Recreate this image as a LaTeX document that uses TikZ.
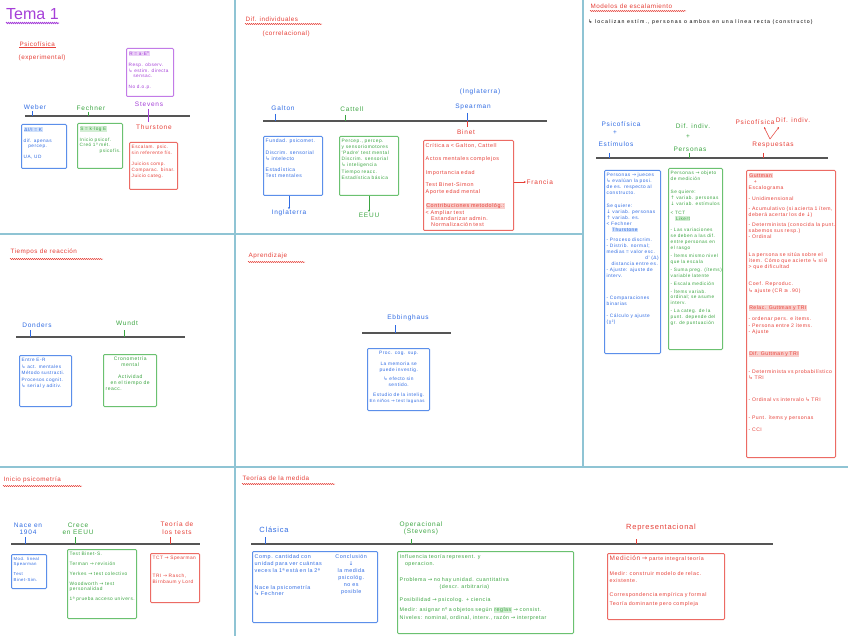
\documentclass[tikz,border=0pt]{standalone}
\usepackage{fontspec}
\setmainfont{Liberation Sans}
\newfontfamily\symf{DejaVu Sans}
\usetikzlibrary{decorations.pathmorphing,arrows.meta}
\definecolor{pnl}{HTML}{8FC4D4}
\definecolor{tlg}{HTML}{555555}
\definecolor{tb}{HTML}{2F6BE3}
\definecolor{bb}{HTML}{5B8FEA}
\definecolor{tg}{HTML}{3BA541}
\definecolor{bg}{HTML}{6BC170}
\definecolor{tr}{HTML}{E63E36}
\definecolor{br}{HTML}{EC6B64}
\definecolor{tp}{HTML}{A53FD8}
\definecolor{bp}{HTML}{C27BE7}
\definecolor{lb}{HTML}{D2E2FB}
\definecolor{lg}{HTML}{D3EED4}
\definecolor{lr}{HTML}{F9CFCC}
\definecolor{lp}{HTML}{EBD2F7}
\newcommand\myra{{\symf →}}
\newcommand\myda{{\symf ↓}}
\newcommand\myua{{\symf ↑}}
\newcommand\myhk{{\symf ↳}}
\newcommand\myhl[2]{{\setlength{\fboxsep}{0.6pt}\colorbox{#1}{#2}}}
\newcommand\hwsp{\addfontfeatures{LetterSpace=10}}
\newcommand\fs[2]{\fontsize{#1}{#2}\selectfont\hwsp}
\tikzset{
 pline/.style={draw=pnl, line width=1.3pt},
 tline/.style={draw=tlg, line width=1.4pt},
 tick/.style={line width=0.7pt},
 lab/.style={font=\fontsize{6.5}{7.3}\selectfont\addfontfeatures{LetterSpace=12}, inner sep=0.5pt, align=center},
 sect/.style={font=\fontsize{6.3}{7.3}\selectfont\addfontfeatures{LetterSpace=8}, text=tr, inner sep=0.5pt, anchor=west},
 wav/.style={decorate, decoration={snake, amplitude=0.6pt, segment length=2pt}, line width=0.45pt},
 cbox/.style={anchor=north west, line width=1pt, rounded corners=1pt, inner sep=0pt},
 btxt/.style={anchor=north west, inner sep=0pt, font=\fs{5}{6}, align=left},
 arr/.style={-{Stealth[length=2.2pt,width=2pt]}, line width=0.5pt},
}
% name, border, text colour, x, y, w, h, text width, content
\newcommand\cb[9]{%
\node[cbox, draw=#2, minimum width=#6pt, minimum height=#7pt] (#1) at (#4,#5) {};
\node[btxt, text=#3, text width=#8pt] (#1t) at ([xshift=2.5pt,yshift=-3pt]#1.north west) {\hyphenpenalty=10000\relax #9};}
\begin{document}
\begin{tikzpicture}[x=1pt,y=-1pt]
\useasboundingbox (0,0) rectangle (848,636);
\fill[white] (0,0) rectangle (848,636);
% panel frame lines
\draw[pline] (235,0) -- (235,636);
\draw[pline] (583,0) -- (583,467);
\draw[pline] (0,234) -- (583,234);
\draw[pline] (0,467) -- (848,467);

%================ Panel 1: Tema 1 / Psicofisica
\node[font=\fontsize{16}{17}\selectfont, text=tp, anchor=west, inner sep=0pt] (tema) at (6,14) {Tema 1};
\draw[wav, draw=tp, line width=0.8pt] (6,23) -- (59,23);
\node[sect] (psf) at (19,44) {Psicofísica};
\draw[tr, line width=0.5pt] (psf.south west) -- (psf.south east);
\node[sect] (exper) at (18,58) {(experimental)};
\draw[tline] (25,116) -- (190,116);
\node[lab, text=tb] (weber) at (35,107) {Weber};
\draw[tick, tb] (32,111) -- (32,116);
\node[lab, text=tg] (fech) at (91,108) {Fechner};
\draw[tick, tg] (88,112) -- (88,116);
\node[lab, text=tp] (stev) at (149,104) {Stevens};
\draw[tick, tp] (148,109) -- (148,122);
\node[lab, text=tr] (thur) at (154,127) {Thurstone};
\cb{pbox}{bp}{tp}{126}{48}{47}{48}{43}{\fs{4.7}{5.8}\myhl{lp}{R = a·E\textsuperscript{n}}\\[5pt]Resp. observ.\\\myhk\ estim. directa\\\quad sensac.\\[5pt]No d.o.p.}
\cb{wbox}{bb}{tb}{21}{124}{45}{44}{41}{\fs{4.7}{5.8}\myhl{lb}{ΔI/I = K}\\[5pt]dif. apenas\\\quad percep.\\[5pt]UA, UD}
\cb{fbox}{bg}{tg}{77}{123}{45}{45}{41}{\fs{4.7}{5.8}\myhl{lg}{S = k·log E}\\[5pt]Inicio psicof.\\Creó 1º mét.\\\hfill psicofís.}
\cb{tbox}{br}{tr}{129}{142}{48}{47}{44}{\fs{4.7}{5.8}Escalam. psic.\\sin referente fís.\\[5pt]Juicios comp.\\Comparac. binar.\\Juicio categ.}

%================ Panel 2: Dif. individuales
\node[sect] (difi) at (245,19) {Dif. individuales};
\draw[wav, draw=tr] (245,24) -- (322,24);
\node[sect] (corr) at (262,34) {(correlacional)};
\draw[tline] (263,121) -- (547,121);
\node[lab, text=tb] (galton) at (283,108) {Galton};
\draw[tick, tb] (275,114) -- (275,121);
\node[lab, text=tg] (catt) at (352,109) {Cattell};
\draw[tick, tg] (345,115) -- (345,121);
\node[lab, text=tb] (ingl2) at (480,92) {(Inglaterra)};
\node[lab, text=tb] (spear) at (473,107) {Spearman};
\draw[tick, tb] (467,113) -- (467,121);
\draw[tick, tr] (467,121) -- (467,127);
\node[lab, text=tr] (binet) at (466,132) {Binet};
\cb{gbox}{bb}{tb}{263}{136}{59}{59}{55}{\fs{5}{6.3}Fundad. psicomet.\\[5pt]Discrim. sensorial\\\myhk\ intelecto\\[5pt]Estadística\\Test mentales}
\cb{cbx}{bg}{tg}{339}{136}{59}{59}{55}{\fs{4.8}{6.1}Percep., percep.\\y sensoriomotores\\‘Padre’ test mental\\Discrim. sensorial\\\myhk\ inteligencia\\Tiempo reacc.\\Estadística básica}
\cb{bbx}{br}{tr}{423}{140}{90}{90}{85}{\fs{5.4}{6.5}Crítica a < Galton, Cattell\\[7pt]Actos mentales complejos\\[7pt]Importancia edad\\[6pt]Test Binet-Simon\\Aporte edad mental\\[8pt]\myhl{lr}{Contribuciones metodológ.:}\\< Ampliar test\\\quad Estandarizar admin.\\\quad Normalización test}
\node[lab, text=tb] (inglat) at (289,213) {Inglaterra};
\draw[arr, tb] (gbox.south -| inglat.north) -- (inglat.north);
\node[lab, text=tg] (eeuu) at (369,215) {EEUU};
\draw[arr, tg] (cbx.south) -- (eeuu.north);
\node[lab, text=tr, anchor=west] (francia) at (526,182) {Francia};
\draw[arr, tr] (bbx.east |- francia.west) -- (francia.west);

%================ Right panel: Modelos de escalamiento
\node[sect] (modesc) at (590,6) {Modelos de escalamiento};
\draw[wav, draw=tr] (590,11) -- (686,11);
\node[font=\fontsize{5.2}{6}\selectfont\addfontfeatures{LetterSpace=22}, anchor=west, inner sep=0pt] (locz) at (588,22) {\myhk\ localizan estím., personas o ambos en una línea recta (constructo)};
\draw[tline] (596,158) -- (828,158);
\node[lab, text=tb] (mpsi) at (621,124) {Psicofísica};
\node[lab, text=tb] (mp1) at (615,133) {+};
\node[lab, text=tb] (mest) at (616,144) {Estímulos};
\draw[tick, tb] (609,153) -- (609,158);
\node[lab, text=tg] (mdif) at (693,126) {Dif. indiv.};
\node[lab, text=tg] (mp2) at (688,137) {+};
\node[lab, text=tg] (mper) at (690,149) {Personas};
\draw[tick, tg] (689,153) -- (689,158);
\node[lab, text=tr] (rpsi) at (755,122) {Psicofísica};
\node[lab, text=tr] (rdif) at (793,120) {Dif. indiv.};
\node[lab, text=tr] (resp) at (773,145) {Respuestas};
\coordinate (vtx) at (770,139);
\draw[arr, tr] (vtx) -- (764,127);
\draw[arr, tr] (vtx) -- (779,127);
\draw[tick, tr] (763,153) -- (763,158);
\cb{mb}{bb}{tb}{604}{170}{56}{183}{52}{\fs{4.8}{6}Personas \myra\ jueces \myhk\ evalúan la posi. de es. respecto al constructo.\\[7pt]Se quiere:\\\myda\ variab. personas\\\myua\ variab. es.\\< Fechner\\\quad\myhl{lb}{Thurstone}\\[4pt]- Proceso discrim.\\- Distrib. normal; medias = valor esc.\\\hfill d’ (Δ)\\\quad distancia entre es.\\- Ajuste: ajuste de interv.\\[16pt]- Comparaciones binarias\\[6pt]- Cálculo y ajuste (χ²)}
\cb{mg}{bg}{tg}{668}{168}{54}{181}{50}{\fs{4.7}{5.9}Personas \myra\ objeto de medición\\[7pt]Se quiere:\\\myua\ variab. personas\\\myda\ variab. estímulos\\[3pt]< TCT\\\quad\myhl{lg}{Likert}\\[6pt]- Las variaciones se deben a las dif. entre personas en el rasgo\\[2pt]- Ítems mismo nivel que la escala\\[2pt]- Suma preg. (ítems) variable latente\\[2pt]- Escala medición\\[2pt]- Ítems variab. ordinal; se asume interv.\\[2pt]- La categ. de la punt. depende del gr. de puntuación}
\cb{mr}{br}{tr}{746}{170}{89}{287}{84}{\fs{5.1}{6.3}\myhl{lr}{Guttman}\\\quad +\\Escalograma\\[4pt]- Unidimensional\\[4pt]- Acumulativo (si acierta 1 ítem, deberá acertar los de \myda)\\[3pt]- Determinista (conocida la punt. sabemos sus resp.)\\- Ordinal\\[11pt]La persona se sitúa sobre el ítem. Cómo que acierte \myhk\ si θ > que dificultad\\[11pt]Coef. Reproduc.\\\myhk\ ajuste (CR {\symf ≥} .90)\\[11pt]\myhl{lr}{Relac. Guttman y TRI}\\[5pt]- ordenar pers. e ítems.\\- Persona entre 2 ítems.\\- Ajuste\\[16pt]\myhl{lr}{Dif. Guttman y TRI}\\[11pt]- Determinista vs probabilístico \myhk\ TRI\\[16pt]- Ordinal vs intervalo \myhk\ TRI\\[12pt]- Punt. ítems y personas\\[6pt]- CCI}

%================ Tiempos de reaccion
\node[sect] (treac) at (10,252) {Tiempos de reacción};
\draw[wav, draw=tr] (10,259) -- (103,259);
\draw[tline] (16,337) -- (185,337);
\node[lab, text=tb] (donders) at (37,325) {Donders};
\draw[tick, tb] (30,330) -- (30,337);
\node[lab, text=tg] (wundt) at (127,323) {Wundt};
\draw[tick, tg] (124,330) -- (124,337);
\cb{db}{bb}{tb}{19}{355}{52}{51}{49}{\fs{4.7}{6.6}Entre E-R\\\myhk\ act. mentales\\Método sustracti.\\Procesos cognit.\\\myhk\ serial y aditiv.}
\cb{wb}{bg}{tg}{103}{354}{53}{52}{49}{\centering Cronometría\\mental\\[6pt]Actividad\\en el tiempo de\\reacc.}

%================ Aprendizaje
\node[sect] (aprend) at (248,256) {Aprendizaje};
\draw[wav, draw=tr] (248,262) -- (305,262);
\draw[tline] (362,333) -- (451,333);
\node[lab, text=tb] (ebb) at (408,318) {Ebbinghaus};
\draw[tick, tb] (395,325) -- (395,333);
\cb{eb}{bb}{tb}{367}{348}{62}{62}{58}{\centering\fs{4.8}{6}Proc. cog. sup.\\[5pt]La memoria se\\puede investig.\\[3pt]\myhk\ efecto sin\\sentido.\\[4pt]Estudio de la intelig.\\{\fs{4.4}{6}En niños \myra\ test lagunas}}

%================ Inicio psicometria
\node[sect] (inpsi) at (3,480) {Inicio psicometría};
\draw[wav, draw=tr] (3,486) -- (82,486);
\draw[tline] (11,544) -- (200,544);
\node[lab, text=tb] (nace) at (28,529) {Nace en\\1904};
\draw[tick, tb] (25,537) -- (25,544);
\node[lab, text=tg] (crece) at (78,529) {Crece\\en EEUU};
\draw[tick, tg] (75,537) -- (75,544);
\node[lab, text=tr] (teotest) at (177,528) {Teoría de\\los tests};
\draw[tick, tr] (170,537) -- (170,544);
\cb{ib}{bb}{tb}{11}{554}{35}{34}{32}{\fs{4.3}{5.3}Mod. lineal\\Spearman\\[5pt]Test\\Binet-Sim.}
\cb{ig}{bg}{tg}{67}{549}{69}{69}{65}{\fs{4.8}{5.8}Test Binet-S.\\[4pt]Terman \myra\ revisión\\[4pt]Yerkes \myra\ test colectivo\\[4pt]Woodworth \myra\ test personalidad\\[4pt]1ª prueba acceso univers.}
\cb{ir}{br}{tr}{150}{553}{49}{49}{45}{\fs{4.8}{5.8}TCT \myra\ Spearman\\[12pt]TRI \myra\ Rasch, Birnbaum y Lord}

%================ Teorias de la medida
\node[sect] (teomed) at (242,478) {Teorías de la medida};
\draw[wav, draw=tr] (242,484) -- (335,484);
\draw[tline] (251,544) -- (773,544);
\node[lab, text=tb, font=\fontsize{7.5}{8.5}\selectfont\hwsp] (clas) at (274,530) {Clásica};
\draw[tick, tb] (265,537) -- (265,544);
\node[lab, text=tg] (oper) at (421,528) {Operacional\\(Stevens)};
\draw[tick, tg] (411,539) -- (411,544);
\node[lab, text=tr, font=\fontsize{7.5}{8.5}\selectfont\hwsp] (repr) at (661,528) {Representacional};
\draw[tick, tr] (636,539) -- (636,544);
\cb{cl}{bb}{tb}{252}{551}{125}{71}{70}{\fs{5.4}{7.2}Comp. cantidad con unidad para ver cuántas veces la 1ª está en la 2ª\\[10pt]Nace la psicometría\\\myhk\ Fechner}
\node[btxt, text=tb, text width=42pt, align=center, font=\fs{5.4}{7}] (clconc) at (330,554) {Conclusión\\\myda\\la medida\\psicológ.\\no es\\posible};
\cb{op}{bg}{tg}{397}{551}{176}{82}{171}{\fs{5.3}{7.2}Influencia teoría represent. y\\\quad operacion.\\[9pt]Problema \myra\ no hay unidad. cuantitativa\\\hspace{40pt}(descr. arbitraria)\\[6pt]Posibilidad \myra\ psicolog. + ciencia\\[2pt]Medir: asignar nº a objetos según \myhl{lg}{reglas} \myra\ consist.\\[2pt]Niveles: nominal, ordinal, interv., razón \myra\ interpretar}
\cb{rp}{br}{tr}{607}{553}{117}{66}{112}{\fs{5.3}{6.6}{\fontsize{6.5}{7}\selectfont Medición \myra} parte integral teoría\\[8pt]Medir: construir modelo de relac. existente.\\[8pt]Correspondencia empírica y formal\\[3pt]Teoría dominante pero compleja}
\end{tikzpicture}
\end{document}
